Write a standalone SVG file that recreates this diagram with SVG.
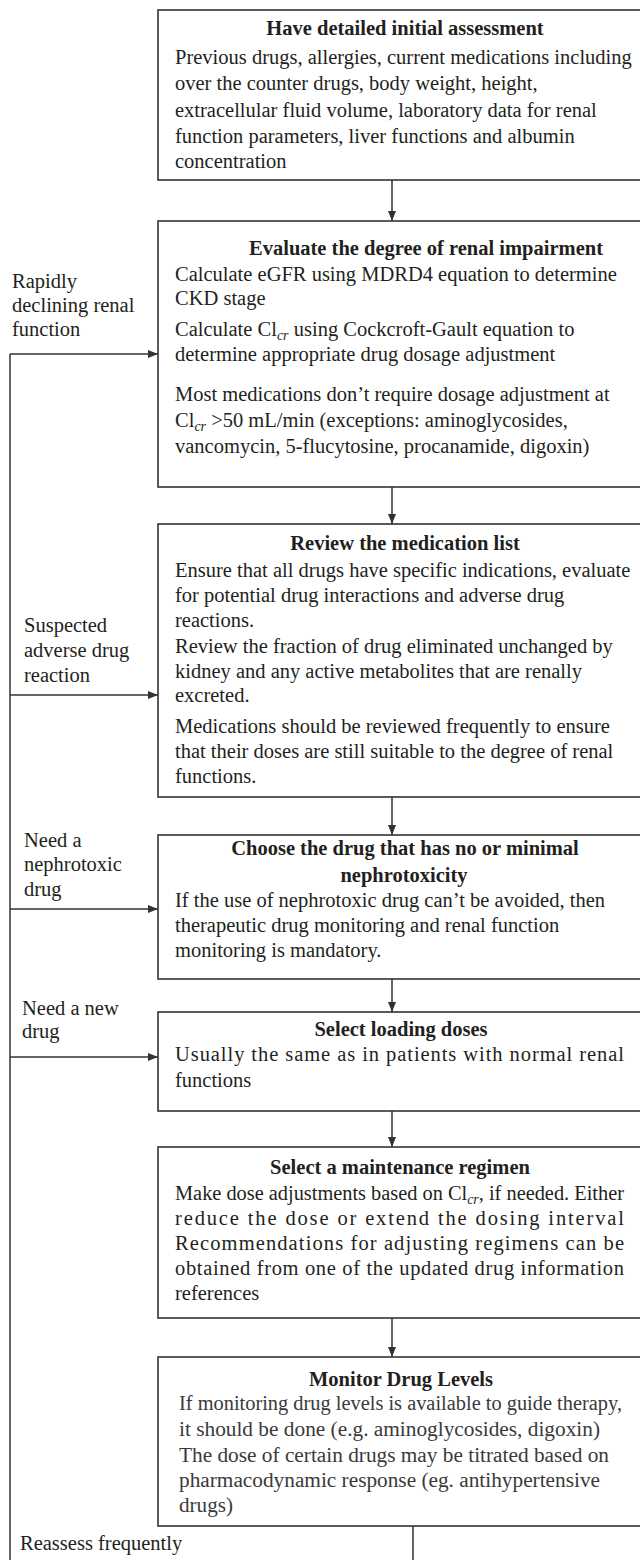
<svg xmlns="http://www.w3.org/2000/svg" width="640" height="1560" viewBox="0 0 640 1560">
<style>
  .box { fill: #ffffff; stroke: #333333; stroke-width: 1.6; }
  .t { font-family: "Liberation Serif", "Times New Roman", serif; font-size: 20.5px; fill: #231f20; }
  .h { font-family: "Liberation Serif", "Times New Roman", serif; font-size: 20.5px; font-weight: bold; fill: #231f20; text-anchor: middle; }
  .g { fill: #3a3a3a; }
  .sub { font-style: italic; font-size: 14px; }
  .ln { fill: none; stroke: #333333; stroke-width: 1.5; }
</style>
<defs>
  <marker id="ah" markerUnits="userSpaceOnUse" markerWidth="10" markerHeight="8" refX="10" refY="4" orient="auto">
    <path d="M0,0 L10,4 L0,8 z" fill="#333333"/>
  </marker>
</defs>
<rect width="640" height="1560" fill="#ffffff"/>

<g id="connectors">
  <line class="ln" x1="392" y1="180" x2="392" y2="221" marker-end="url(#ah)"/>
  <line class="ln" x1="392" y1="487" x2="392" y2="524" marker-end="url(#ah)"/>
  <line class="ln" x1="392" y1="797" x2="392" y2="835" marker-end="url(#ah)"/>
  <line class="ln" x1="392" y1="979" x2="392" y2="1012" marker-end="url(#ah)"/>
  <line class="ln" x1="392" y1="1111" x2="392" y2="1147" marker-end="url(#ah)"/>
  <line class="ln" x1="392" y1="1318" x2="392" y2="1357" marker-end="url(#ah)"/>
  <line class="ln" x1="10" y1="354" x2="10" y2="1560"/>
  <line class="ln" x1="413" y1="1526" x2="413" y2="1560"/>
  <line class="ln" x1="10" y1="354" x2="158" y2="354" marker-end="url(#ah)"/>
  <line class="ln" x1="10" y1="695" x2="158" y2="695" marker-end="url(#ah)"/>
  <line class="ln" x1="10" y1="909" x2="158" y2="909" marker-end="url(#ah)"/>
  <line class="ln" x1="10" y1="1057" x2="158" y2="1057" marker-end="url(#ah)"/>
  <text class="t" x="12" y="288">Rapidly</text>
  <text class="t" x="12" y="312">declining renal</text>
  <text class="t" x="12" y="336">function</text>
  <text class="t" x="24" y="632">Suspected</text>
  <text class="t" x="24" y="657">adverse drug</text>
  <text class="t" x="24" y="682">reaction</text>
  <text class="t" x="24" y="847">Need a</text>
  <text class="t" x="24" y="871">nephrotoxic</text>
  <text class="t" x="24" y="896">drug</text>
  <text class="t" x="22" y="1015">Need a new</text>
  <text class="t" x="22" y="1038">drug</text>
  <text class="t" x="20" y="1550">Reassess frequently</text>
</g>

<g id="n1">
  <rect class="box" x="158" y="10" width="560" height="170"/>
  <text class="h" x="405" y="35">Have detailed initial assessment</text>
  <text class="t" x="175" y="64">Previous drugs, allergies, current medications including</text>
  <text class="t" x="175" y="90">over the counter drugs, body weight, height,</text>
  <text class="t" x="175" y="117">extracellular fluid volume, laboratory data for renal</text>
  <text class="t" x="175" y="143">function parameters, liver functions and albumin</text>
  <text class="t" x="175" y="168">concentration</text>
</g>

<g id="n2">
  <rect class="box" x="158" y="221" width="560" height="266"/>
  <text class="h" x="426" y="255">Evaluate the degree of renal impairment</text>
  <text class="t" x="175" y="281">Calculate eGFR using MDRD4 equation to determine</text>
  <text class="t" x="175" y="305">CKD stage</text>
  <text class="t" x="175" y="336">Calculate Cl<tspan class="sub" dy="4">cr</tspan><tspan dy="-4"> using Cockcroft-Gault equation to</tspan></text>
  <text class="t" x="175" y="361">determine appropriate drug dosage adjustment</text>
  <text class="t" x="175" y="401">Most medications don’t require dosage adjustment at</text>
  <text class="t" x="175" y="427">Cl<tspan class="sub" dy="4">cr</tspan><tspan dy="-4"> &gt;50 mL/min (exceptions: aminoglycosides,</tspan></text>
  <text class="t" x="175" y="453">vancomycin, 5-flucytosine, procanamide, digoxin)</text>
</g>

<g id="n3">
  <rect class="box" x="158" y="524" width="560" height="273"/>
  <text class="h" x="405" y="550">Review the medication list</text>
  <text class="t" x="175" y="577">Ensure that all drugs have specific indications, evaluate</text>
  <text class="t" x="175" y="602">for potential drug interactions and adverse drug</text>
  <text class="t" x="175" y="627">reactions.</text>
  <text class="t" x="175" y="653">Review the fraction of drug eliminated unchanged by</text>
  <text class="t" x="175" y="678">kidney and any active metabolites that are renally</text>
  <text class="t" x="175" y="702">excreted.</text>
  <text class="t" x="175" y="733">Medications should be reviewed frequently to ensure</text>
  <text class="t" x="175" y="758">that their doses are still suitable to the degree of renal</text>
  <text class="t" x="175" y="783">functions.</text>
</g>

<g id="n4">
  <rect class="box" x="158" y="835" width="560" height="144"/>
  <text class="h" x="405" y="855">Choose the drug that has no or minimal</text>
  <text class="h" x="404" y="882">nephrotoxicity</text>
  <text class="t" x="175" y="907">If the use of nephrotoxic drug can’t be avoided, then</text>
  <text class="t" x="175" y="932">therapeutic drug monitoring and renal function</text>
  <text class="t" x="175" y="957">monitoring is mandatory.</text>
</g>

<g id="n5">
  <rect class="box" x="158" y="1012" width="560" height="99"/>
  <text class="h" x="401" y="1036">Select loading doses</text>
  <text class="t" x="175" y="1061" textLength="449" lengthAdjust="spacing">Usually the same as in patients with normal renal</text>
  <text class="t" x="175" y="1087">functions</text>
</g>

<g id="n6">
  <rect class="box" x="158" y="1147" width="560" height="171"/>
  <text class="h" x="400" y="1174">Select a maintenance regimen</text>
  <text class="t" x="175" y="1200" textLength="449" lengthAdjust="spacingAndGlyphs">Make dose adjustments based on Cl<tspan class="sub" dy="4">cr</tspan><tspan dy="-4">, if needed. Either</tspan></text>
  <text class="t" x="175" y="1225" textLength="449" lengthAdjust="spacing">reduce the dose or extend the dosing interval</text>
  <text class="t" x="175" y="1250" textLength="449" lengthAdjust="spacing">Recommendations for adjusting regimens can be</text>
  <text class="t" x="175" y="1275" textLength="449" lengthAdjust="spacing">obtained from one of the updated drug information</text>
  <text class="t" x="175" y="1300">references</text>
</g>

<g id="n7">
  <rect class="box" x="158" y="1357" width="560" height="169"/>
  <text class="h" x="401" y="1386">Monitor Drug Levels</text>
  <text class="t g" x="179" y="1410" textLength="443" lengthAdjust="spacingAndGlyphs">If monitoring drug levels is available to guide therapy,</text>
  <text class="t g" x="179" y="1436" textLength="421" lengthAdjust="spacingAndGlyphs">it should be done (e.g. aminoglycosides, digoxin)</text>
  <text class="t g" x="179" y="1462" textLength="430" lengthAdjust="spacingAndGlyphs">The dose of certain drugs may be titrated based on</text>
  <text class="t g" x="179" y="1487" textLength="421" lengthAdjust="spacingAndGlyphs">pharmacodynamic response (eg. antihypertensive</text>
  <text class="t g" x="179" y="1512" textLength="54" lengthAdjust="spacingAndGlyphs">drugs)</text>
</g>
</svg>
